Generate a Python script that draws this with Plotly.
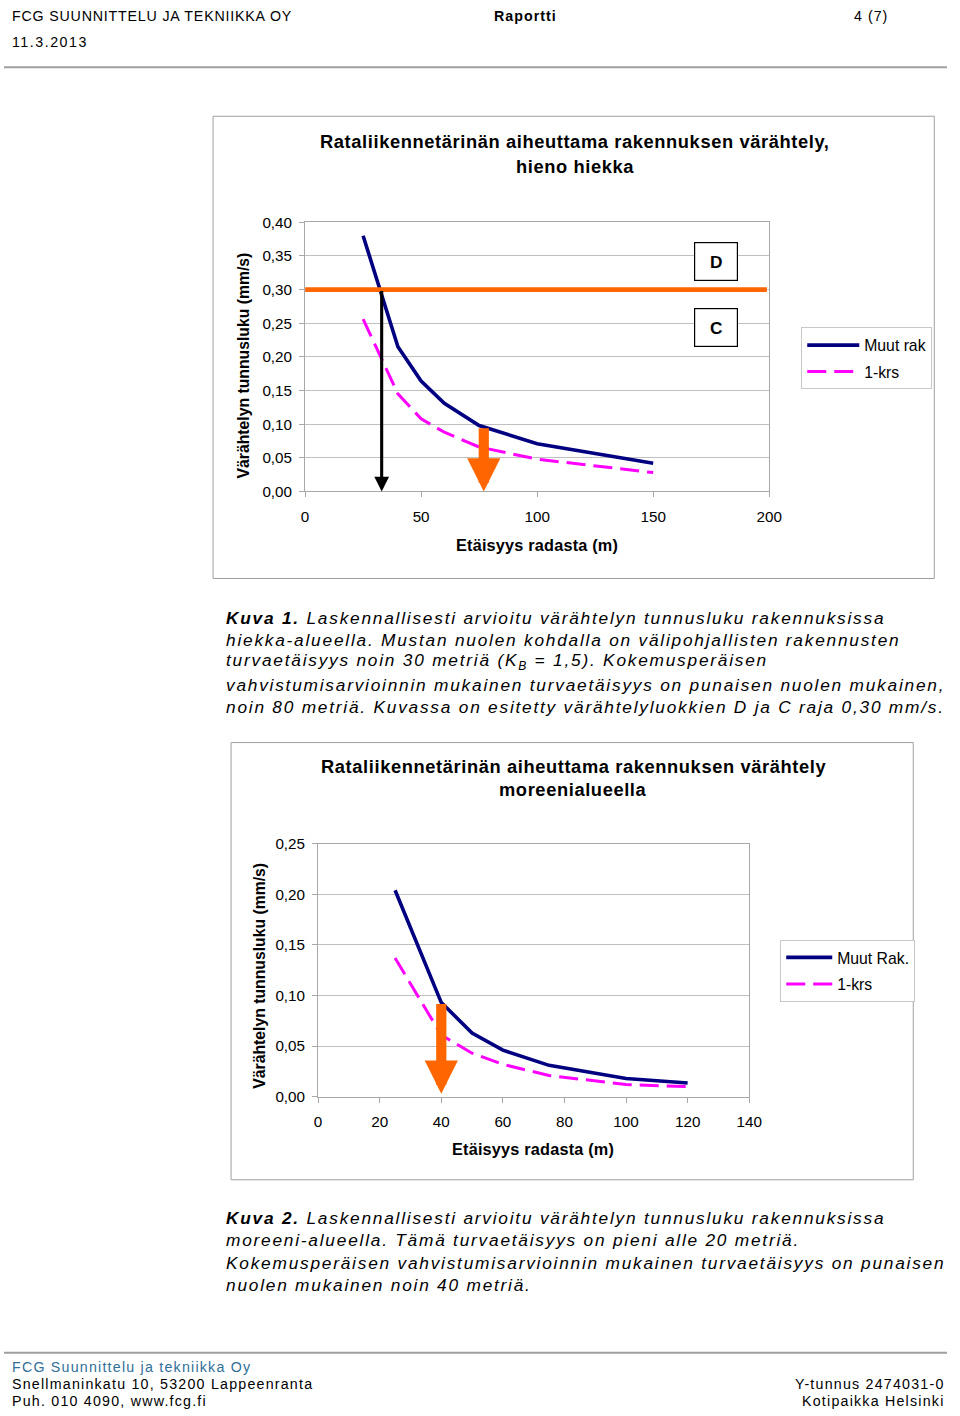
import plotly.graph_objects as go

W, H = 960, 1416
# The photographed page shows the figure slightly reduced and offset;
# positions below are given in target-picture pixels and mapped back here.
SX, OX = 0.982, 4.0
SY, OY = 0.9875, 8.8
K = 1.016  # font / pixel size compensation


def px(x):
    return ((x - OX) / SX) / W


def py(y):
    return 1 - ((y - OY) / SY) / H


def fs(s):
    return round(s * K, 2)


FONT = "Liberation Sans"

# ---------- Chart 1 data (hieno hiekka) ----------
dist1 = [25, 40, 50, 60, 75, 100, 150]
muut1 = [0.380, 0.215, 0.164, 0.131, 0.098, 0.071, 0.042]
krs1 = [0.256, 0.145, 0.108, 0.088, 0.066, 0.048, 0.028]
limit_x1 = [0, 199]
limit_v1 = 0.30
black_arrow_x1 = 33
orange_arrow_x1 = 77
orange_arrow_top1 = 0.096
yticks1 = [0.00, 0.05, 0.10, 0.15, 0.20, 0.25, 0.30, 0.35, 0.40]
xticks1 = [0, 50, 100, 150, 200]

# ---------- Chart 2 data (moreeni) ----------
dist2 = [25, 40, 50, 60, 75, 100, 120]
muut2 = [0.204, 0.093, 0.063, 0.046, 0.031, 0.018, 0.0135]
krs2 = [0.137, 0.061, 0.043, 0.032, 0.021, 0.012, 0.010]
orange_arrow_x2 = 40
orange_arrow_top2 = 0.093
yticks2 = [0.00, 0.05, 0.10, 0.15, 0.20, 0.25]
xticks2 = [0, 20, 40, 60, 80, 100, 120, 140]

NAVY = "#000080"
MAGENTA = "#FF00FF"
ORANGE = "#FF6600"
GRID = "#c0c0c0"
FRAME = "#a8a8a8"

fig = go.Figure()

# chart 1 traces
fig.add_trace(go.Scatter(x=dist1, y=muut1, mode="lines", name="Muut rak",
                         line=dict(color=NAVY, width=3.6), legend="legend",
                         legendgroup="a1", xaxis="x", yaxis="y"))
fig.add_trace(go.Scatter(x=dist1, y=krs1, mode="lines", name="1-krs",
                         line=dict(color=MAGENTA, width=3, dash="19px,8px"), legend="legend",
                         legendgroup="b1", xaxis="x", yaxis="y"))
fig.add_trace(go.Scatter(x=limit_x1, y=[limit_v1] * len(limit_x1), mode="lines",
                         line=dict(color=ORANGE, width=4.6), showlegend=False,
                         xaxis="x", yaxis="y", hoverinfo="skip"))

# chart 2 traces
fig.add_trace(go.Scatter(x=dist2, y=muut2, mode="lines", name="Muut Rak.",
                         line=dict(color=NAVY, width=3.6), legend="legend2",
                         legendgroup="a2", xaxis="x2", yaxis="y2"))
fig.add_trace(go.Scatter(x=dist2, y=krs2, mode="lines", name="1-krs",
                         line=dict(color=MAGENTA, width=3, dash="19px,8px"), legend="legend2",
                         legendgroup="b2", xaxis="x2", yaxis="y2"))

axis_common = dict(showline=True, mirror=True, linecolor=FRAME, linewidth=1,
                   showgrid=False, zeroline=False, ticks="outside", ticklen=5,
                   tickcolor=FRAME, tickfont=dict(family=FONT, size=fs(15), color="black"))

LEG = dict(xanchor="left", yanchor="top", bgcolor="white", bordercolor="#c8c8c8",
           borderwidth=1, font=dict(family=FONT, size=fs(15.5), color="black"),
           tracegroupgap=3)

fig.update_layout(
    margin=dict(l=0, r=0, t=0, b=0),
    paper_bgcolor="white", plot_bgcolor="white",
    separators=", ",
    font=dict(family=FONT, color="black"),
    xaxis=dict(domain=[px(305), px(769)], range=[0, 200], tickvals=xticks1,
               anchor="y", ticklabelstandoff=6, **axis_common),
    yaxis=dict(domain=[py(491), py(222)], range=[0, 0.40], tickvals=yticks1,
               tickformat=".2f", anchor="x", ticklabelstandoff=4,
               **{**axis_common, "showgrid": True, "gridcolor": GRID}),
    xaxis2=dict(domain=[px(318), px(749)], range=[0, 140], tickvals=xticks2,
                anchor="y2", ticklabelstandoff=6, **axis_common),
    yaxis2=dict(domain=[py(1096), py(843)], range=[0, 0.25], tickvals=yticks2,
                tickformat=".2f", anchor="x2", ticklabelstandoff=4,
                **{**axis_common, "showgrid": True, "gridcolor": GRID}),
    legend=dict(x=px(801), y=py(327), itemwidth=52, **LEG),
    legend2=dict(x=px(780), y=py(939), itemwidth=46, **LEG),
    showlegend=True,
)

shapes = []
# header / footer rules
shapes.append(dict(type="line", xref="paper", yref="paper", x0=0, x1=1,
                   y0=py(67), y1=py(67), line=dict(color="#a0a0a0", width=2)))
shapes.append(dict(type="line", xref="paper", yref="paper", x0=0, x1=1,
                   y0=py(1352), y1=py(1352), line=dict(color="#a0a0a0", width=2)))
# chart frames
shapes.append(dict(type="rect", xref="paper", yref="paper", x0=px(213), x1=px(934),
                   y0=py(578), y1=py(116), line=dict(color="#a0a0a0", width=1)))
shapes.append(dict(type="rect", xref="paper", yref="paper", x0=px(231), x1=px(913),
                   y0=py(1179), y1=py(742), line=dict(color="#a0a0a0", width=1)))
fig.update_layout(shapes=shapes)

ann = []


def txt(x, y, text, size=14, anchor="left", color="black", bold=False, ls=None, **kw):
    if bold:
        text = "<b>" + text + "</b>"
    if ls is not None:
        text = '<span style="letter-spacing:%spx">' % round(ls * K, 2) + text + "</span>"
    ann.append(dict(x=px(x), y=py(y), xref="paper", yref="paper", text=text,
                    showarrow=False, xanchor=anchor, yanchor="middle", borderpad=0,
                    font=dict(family=FONT, size=fs(size), color=color), **kw))


# header
txt(11, 16, "FCG SUUNNITTELU JA TEKNIIKKA OY", 14, ls=0.8)
txt(493, 16, "Raportti", 14, bold=True, ls=1)
txt(853, 16, "4 (7)", 14, ls=1)
txt(11, 42, "11.3.2013", 14, ls=1.5)

# chart 1 titles
txt(575, 141, "Rataliikennetärinän aiheuttama rakennuksen värähtely,", 18, "center", bold=True, ls=0.6)
txt(575, 166, "hieno hiekka", 18, "center", bold=True, ls=0.6)
txt(243, 365, "Värähtelyn tunnusluku (mm/s)", 15.5, "center", bold=True, textangle=-90)
txt(537, 545, "Etäisyys radasta (m)", 16, "center", bold=True, ls=0.2)

# D / C boxes
for label, yc in (("D", 261), ("C", 327)):
    ann.append(dict(x=px(716), y=py(yc), xref="paper", yref="paper",
                    text="<b>" + label + "</b>", showarrow=False,
                    xanchor="center", yanchor="middle", width=42, height=37,
                    bordercolor="black", borderwidth=1.2, borderpad=0, bgcolor="white",
                    font=dict(family=FONT, size=fs(17), color="black")))

# chart 1 arrows
ann.append(dict(x=black_arrow_x1, y=0.0, ax=black_arrow_x1, ay=limit_v1,
                xref="x", yref="y", axref="x", ayref="y", text="", showarrow=True,
                arrowhead=2, arrowsize=0.95, arrowwidth=3.1, arrowcolor="black",
                standoff=0, startstandoff=0))
ann.append(dict(x=orange_arrow_x1, y=0.0, ax=orange_arrow_x1, ay=orange_arrow_top1,
                xref="x", yref="y", axref="x", ayref="y", text="", showarrow=True,
                arrowhead=2, arrowsize=0.65, arrowwidth=10.2, arrowcolor=ORANGE,
                standoff=0, startstandoff=0))

# chart 2 titles
txt(573, 766, "Rataliikennetärinän aiheuttama rakennuksen värähtely", 18, "center", bold=True, ls=0.6)
txt(573, 789, "moreenialueella", 18, "center", bold=True, ls=0.6)
txt(260, 975, "Värähtelyn tunnusluku (mm/s)", 15.5, "center", bold=True, textangle=-90)
txt(533, 1148, "Etäisyys radasta (m)", 16, "center", bold=True, ls=0.2)

ann.append(dict(x=orange_arrow_x2, y=0.003, ax=orange_arrow_x2, ay=orange_arrow_top2,
                xref="x2", yref="y2", axref="x2", ayref="y2", text="", showarrow=True,
                arrowhead=2, arrowsize=0.65, arrowwidth=10.2, arrowcolor=ORANGE,
                standoff=0, startstandoff=0))

# captions
cap1 = [
    "<b>Kuva 1.</b> Laskennallisesti arvioitu värähtelyn tunnusluku rakennuksissa",
    "hiekka-alueella. Mustan nuolen kohdalla on välipohjallisten rakennusten",
    "turvaetäisyys noin 30 metriä (K<sub>B</sub> = 1,5). Kokemusperäisen",
    "vahvistumisarvioinnin mukainen turvaetäisyys on punaisen nuolen mukainen,",
    "noin 80 metriä. Kuvassa on esitetty värähtelyluokkien D ja C raja 0,30 mm/s.",
]
for i, line in enumerate(cap1):
    txt(225, [617, 639, 661, 684, 706][i], "<i>" + line + "</i>", 17, ls=1.75)

cap2 = [
    "<b>Kuva 2.</b> Laskennallisesti arvioitu värähtelyn tunnusluku rakennuksissa",
    "moreeni-alueella. Tämä turvaetäisyys on pieni alle 20 metriä.",
    "Kokemusperäisen vahvistumisarvioinnin mukainen turvaetäisyys on punaisen",
    "nuolen mukainen noin 40 metriä.",
]
for i, line in enumerate(cap2):
    txt(225, [1217, 1239, 1262, 1284][i], "<i>" + line + "</i>", 17, ls=1.75)

# footer
txt(11, 1366, "FCG Suunnittelu ja tekniikka Oy", 14, color="#2f6f98", ls=1.2)
txt(11, 1383, "Snellmaninkatu 10, 53200 Lappeenranta", 14, ls=1.2)
txt(11, 1400, "Puh. 010 4090, www.fcg.fi", 14, ls=1.2)
txt(946, 1383, "Y-tunnus 2474031-0", 14, "right", ls=1.2)
txt(946, 1400, "Kotipaikka Helsinki", 14, "right", ls=1.2)

fig.update_layout(annotations=ann)
fig.write_html(
    "out.html",
    config={"displayModeBar": False},
    default_width="%dpx;position:absolute;left:0;top:0" % W,
    default_height="%dpx" % H,
)
